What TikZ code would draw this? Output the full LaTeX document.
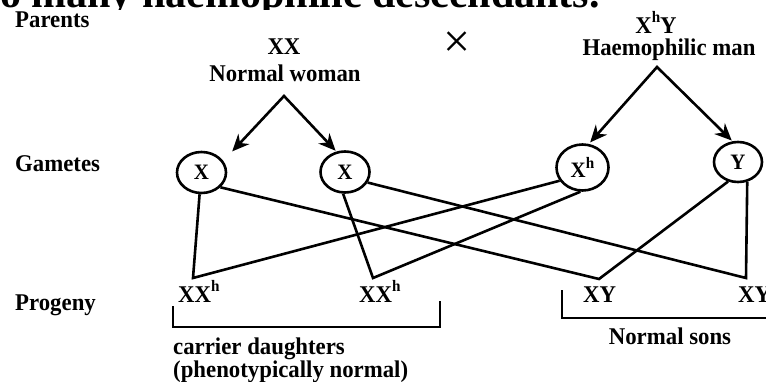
\documentclass[tikz,border=0pt]{standalone}
\usepackage{fontspec}
\setmainfont{Liberation Serif}
\newfontfamily\wide[FakeStretch=0.95]{Liberation Serif}
\usetikzlibrary{arrows.meta,shapes.geometric}
\newcommand\hsup{\raisebox{0.42em}{\fontsize{16}{16}\selectfont h}}
\begin{document}
\begin{tikzpicture}[x=1pt,y=-1pt,
  lbl/.style={font=\wide\bfseries\fontsize{24}{26}\selectfont, inner sep=0pt},
  ttl/.style={font=\bfseries\fontsize{42}{46}\selectfont, inner sep=0pt},
  gam/.style={ellipse, draw, line width=2.6pt, minimum width=49pt, minimum height=41pt, inner sep=0pt, font=\wide\bfseries\fontsize{22}{24}\selectfont},
  link/.style={line width=2.6pt},
  arr/.style={line width=2.6pt, {Stealth[length=17pt,width=15pt]}-{Stealth[length=17pt,width=15pt]}},
]
\useasboundingbox (0,0) rectangle (766,381);
\clip (0,0) rectangle (766,381);
% cropped heading (only its lower slice shows)
\begin{scope}
\clip (0,0) rectangle (766,9);
\node[ttl, anchor=base east] (title) at (600,7) {so many haemophilic descendants.};
\end{scope}
% parents
\node[lbl, anchor=base west] (parents) at (15,27) {Parents};
\node[lbl, anchor=base] (xx) at (284,54) {XX};
\node[lbl, anchor=base] (nw) at (285,81) {Normal woman};
\node[font=\fontsize{48}{48}\selectfont, inner sep=0pt] (cross) at (457,45) {×};
\node[lbl, anchor=base] (xhy) at (656,33) {X\hsup Y};
\node[lbl, anchor=base] (hm) at (669,55) {Haemophilic man};
\coordinate (wapex) at (284,96);
\coordinate (mapex) at (657,67);
% gametes
\node[lbl, anchor=base west] (gamlbl) at (15,171) {Gametes};
\node[gam] (X1) at (201.5,172.5) {X};
\node[gam] (X2) at (345,172) {X};
\node[gam, minimum width=52pt, minimum height=46pt] (Xh) at (582.5,167.5) {X\hsup};
\node[gam, minimum width=48pt, minimum height=40pt] (Y) at (738,162) {Y};
% arrows
\draw[arr, shorten <=13pt, shorten >=1pt] (X1.28) -- (wapex) -- (X2.113);
\draw[arr, shorten <=2pt, shorten >=1pt] (Xh.75) -- (mapex) -- (Y.105);
% progeny
\node[lbl, anchor=base west] (prog) at (15,310) {Progeny};
\coordinate (v1) at (193,278);
\coordinate (v2) at (373,278);
\coordinate (v3) at (599,279);
\coordinate (v4) at (746,278);
\node[lbl, anchor=base west] (p1) at (178,302) {XX\hsup};
\node[lbl, anchor=base west] (p2) at (359,302) {XX\hsup};
\node[lbl, anchor=base west] (p3) at (583,302) {XY};
\node[lbl, anchor=base west] (p4) at (738,302) {XY};
% links
\draw[link] (X1.-95) -- (v1) -- (Xh.-150);
\draw[link] (X1.-38) -- (v3) -- (Y.-117);
\draw[link] (X2.-95) -- (v2) -- (Xh.-95);
\draw[link] (X2.-25) -- (v4) -- (Y.-65);
% brackets
\draw[link] (173,306) |- (440,327) -- (440,301);
\draw[link] (562,290) |- (772,318);
\node[lbl, anchor=base west] (cd) at (173,354) {carrier daughters};
\node[lbl, anchor=base west] (pn) at (173,377) {(phenotypically normal)};
\node[lbl, anchor=base] (ns) at (670,344) {Normal sons};
\end{tikzpicture}
\end{document}
